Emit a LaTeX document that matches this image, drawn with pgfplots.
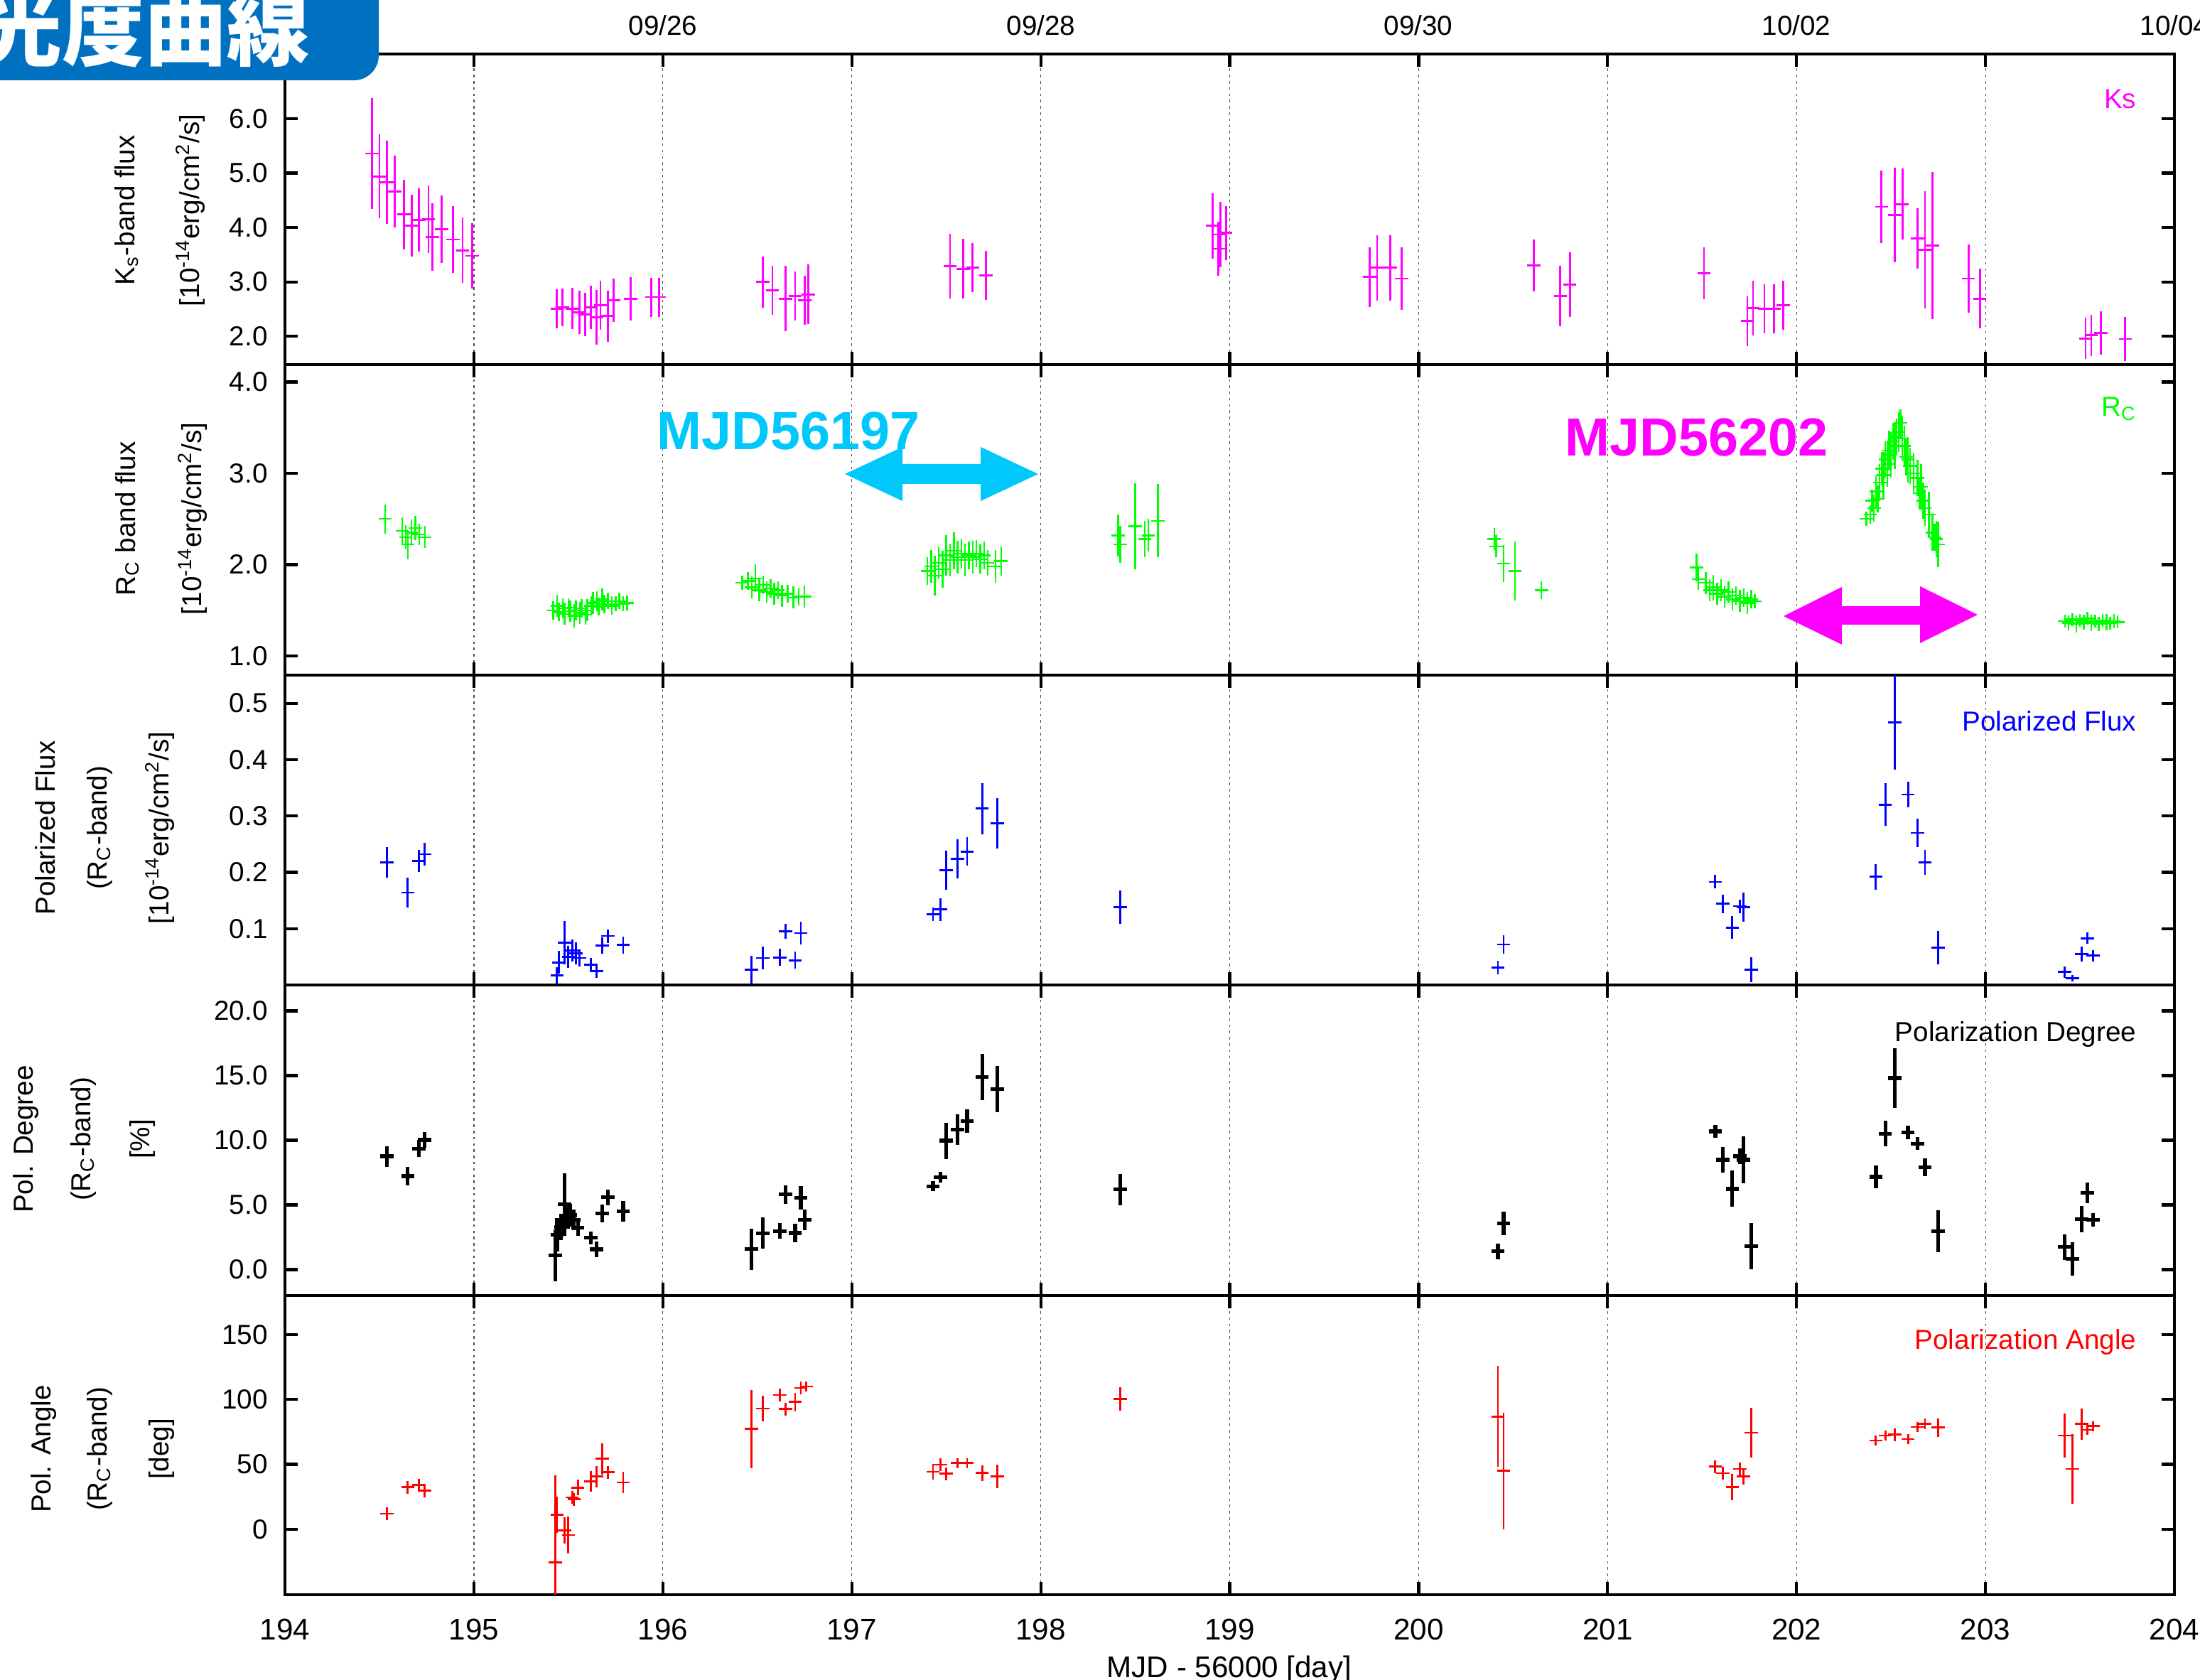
\documentclass[border=0pt]{standalone}
\usepackage{pgfplots}
\pgfplotsset{compat=1.18}
\usepackage{fontspec}
\setmainfont{Liberation Sans}
\newfontfamily\cjk{Noto Sans CJK JP}
\definecolor{titleblue}{RGB}{0,112,192}
\definecolor{annocyan}{RGB}{0,200,250}
\definecolor{mag}{RGB}{255,0,255}
\definecolor{grn}{RGB}{0,255,0}
\pgfplotsset{
 panel/.style={
  scale only axis, width=26.59cm, xmin=194, xmax=204, xtick={194,...,204},
  axis line style={line width=1.4pt},
  tick style={line width=1.2pt, black},
  major tick length=0.18cm,
  tick align=inside,
  xmajorgrids,
  grid style={dash pattern=on 1pt off 1.5pt, line width=0.35pt, black!70},
  ticklabel style={font=\fontsize{11}{13}\selectfont},
  /pgf/number format/assume math mode=true,
  y tick label style={/pgf/number format/.cd, fixed, fixed zerofill, precision=1, /tikz/.cd, xshift=-0.12cm},
  anchor=south west,
 },
 eb/.style 2 args={draw=none, mark=none,
  error bars/.cd, x dir=both, x fixed=0.035, y dir=both, y explicit,
  error mark=none, error bar style={draw=#1, line width=#2, solid}},
}
\begin{document}
\begin{tikzpicture}
% ---------------- Panel 1: Ks
\begin{axis}[panel, at={(4.01cm,18.50cm)}, height=4.37cm, ymin=1.48, ymax=7.19,
  ytick={2,3,4,5,6}, xticklabels={}]
\addplot[eb={mag}{0.8pt}] table[x index=0, y index=1, y error index=2] {
x y e
194.46 5.36 1.02
194.50 4.94 0.77
194.54 4.83 0.76
194.58 4.66 0.66
194.63 4.24 0.64
194.67 4.03 0.57
194.71 4.14 0.58
194.76 4.15 0.62
194.78 3.83 0.62
194.83 3.97 0.62
194.89 3.78 0.62
194.94 3.58 0.60
194.99 3.48 0.60
195.44 2.51 0.36
195.47 2.53 0.35
195.52 2.51 0.38
195.56 2.44 0.40
195.59 2.40 0.40
195.62 2.53 0.40
195.65 2.35 0.50
195.67 2.57 0.45
195.71 2.37 0.47
195.74 2.66 0.40
195.83 2.69 0.40
195.94 2.72 0.36
195.98 2.72 0.36
196.53 3.00 0.47
196.58 2.84 0.45
196.65 2.69 0.60
196.70 2.74 0.45
196.75 2.66 0.45
196.77 2.77 0.55
197.52 3.29 0.60
197.59 3.24 0.55
197.64 3.26 0.45
197.71 3.12 0.45
198.91 4.03 0.60
198.94 3.61 0.50
198.95 3.87 0.60
198.98 3.90 0.50
199.74 3.09 0.55
199.78 3.26 0.60
199.85 3.26 0.60
199.91 3.06 0.58
200.61 3.30 0.48
200.75 2.74 0.56
200.80 2.95 0.60
201.51 3.16 0.48
201.74 2.28 0.46
201.77 2.52 0.50
201.83 2.51 0.45
201.88 2.51 0.45
201.93 2.57 0.45
202.45 4.38 0.67
202.52 4.23 0.87
202.56 4.43 0.65
202.64 3.80 0.56
202.68 3.59 1.08
202.72 3.67 1.35
202.91 3.06 0.63
202.97 2.69 0.55
203.53 1.96 0.38
203.56 2.02 0.38
203.61 2.06 0.40
203.74 1.95 0.40
};
\end{axis}
% ---------------- Panel 2: Rc
\begin{axis}[panel, at={(4.01cm,14.13cm)}, height=4.37cm, ymin=0.79, ymax=4.19,
  ytick={1,2,3,4}, xticklabels={}]
\addplot[eb={grn}{0.7pt}] table[x index=0, y index=1, y error index=2] {
x y e
194.53 2.50 0.16
194.62 2.37 0.15
194.64 2.30 0.13
194.65 2.22 0.16
194.67 2.35 0.14
194.69 2.40 0.13
194.71 2.33 0.12
194.74 2.30 0.12
195.42 1.50 0.10
195.44 1.55 0.12
195.45 1.48 0.10
195.47 1.52 0.11
195.48 1.46 0.12
195.50 1.53 0.10
195.51 1.49 0.12
195.53 1.44 0.13
195.54 1.50 0.11
195.56 1.47 0.12
195.57 1.52 0.10
195.59 1.45 0.11
195.60 1.50 0.12
195.62 1.55 0.10
195.63 1.58 0.12
195.65 1.60 0.11
195.66 1.54 0.10
195.68 1.62 0.12
195.69 1.57 0.10
195.71 1.60 0.09
195.73 1.55 0.10
195.75 1.57 0.08
195.77 1.60 0.09
195.79 1.57 0.08
195.81 1.58 0.08
196.42 1.80 0.08
196.45 1.82 0.10
196.47 1.75 0.12
196.49 1.85 0.15
196.51 1.72 0.12
196.53 1.78 0.10
196.55 1.70 0.12
196.57 1.74 0.10
196.59 1.68 0.12
196.61 1.72 0.10
196.63 1.66 0.12
196.66 1.68 0.10
196.69 1.64 0.12
196.72 1.65 0.10
196.75 1.65 0.12
197.40 1.93 0.15
197.42 1.98 0.18
197.44 1.88 0.22
197.46 2.02 0.18
197.48 1.95 0.20
197.50 2.10 0.22
197.52 2.05 0.18
197.54 2.15 0.20
197.56 2.08 0.18
197.58 2.12 0.16
197.60 2.05 0.18
197.62 2.10 0.15
197.64 2.08 0.18
197.66 2.12 0.15
197.68 2.06 0.16
197.70 2.10 0.15
197.72 2.02 0.14
197.76 1.98 0.18
197.79 2.04 0.16
198.41 2.32 0.23
198.42 2.22 0.20
198.50 2.42 0.47
198.55 2.28 0.20
198.57 2.32 0.18
198.62 2.48 0.40
200.40 2.28 0.12
200.41 2.20 0.12
200.45 2.01 0.20
200.51 1.93 0.32
200.65 1.72 0.10
201.47 1.97 0.15
201.48 1.84 0.12
201.52 1.80 0.12
201.54 1.72 0.12
201.56 1.75 0.14
201.58 1.68 0.12
201.60 1.72 0.12
201.62 1.65 0.12
201.64 1.70 0.12
201.66 1.62 0.12
201.68 1.66 0.10
201.70 1.60 0.12
201.72 1.64 0.10
201.74 1.58 0.12
201.76 1.62 0.10
201.78 1.60 0.08
202.37 2.50 0.08
202.39 2.55 0.10
202.40 2.70 0.12
202.41 2.62 0.15
202.42 2.80 0.18
202.43 2.72 0.15
202.44 2.90 0.20
202.45 3.05 0.18
202.46 2.98 0.25
202.47 3.15 0.20
202.48 3.10 0.25
202.49 3.25 0.22
202.50 3.20 0.25
202.51 3.35 0.20
202.52 3.30 0.25
202.53 3.40 0.20
202.54 3.45 0.22
202.55 3.55 0.15
202.56 3.38 0.25
202.57 3.30 0.22
202.58 3.18 0.20
202.59 3.15 0.25
202.60 3.08 0.20
202.62 3.00 0.22
202.64 2.95 0.20
202.65 2.78 0.18
202.66 2.85 0.25
202.67 2.70 0.20
202.68 2.62 0.20
202.70 2.55 0.25
202.72 2.35 0.20
202.73 2.30 0.15
202.74 2.28 0.20
202.75 2.22 0.25
203.42 1.38 0.07
203.44 1.36 0.08
203.46 1.40 0.07
203.48 1.35 0.09
203.50 1.39 0.07
203.52 1.37 0.08
203.54 1.41 0.07
203.56 1.36 0.09
203.58 1.38 0.07
203.60 1.35 0.08
203.62 1.39 0.07
203.64 1.37 0.09
203.66 1.36 0.07
203.68 1.38 0.08
203.70 1.37 0.07
};
\end{axis}
% ---------------- Panel 3: Polarized flux
\begin{axis}[panel, at={(4.01cm,9.77cm)}, height=4.36cm, ymin=0, ymax=0.55,
  ytick={0.1,0.2,0.3,0.4,0.5}, xticklabels={}]
\addplot[eb={blue}{0.8pt}] table[x index=0, y index=1, y error index=2] {
x y e
194.54 0.218 0.027
194.65 0.164 0.027
194.71 0.220 0.020
194.74 0.232 0.020
195.44 0.017 0.015
195.45 0.040 0.020
195.48 0.075 0.038
195.50 0.050 0.020
195.52 0.061 0.020
195.54 0.056 0.020
195.56 0.048 0.015
195.62 0.036 0.012
195.65 0.025 0.012
195.68 0.070 0.015
195.71 0.087 0.012
195.79 0.071 0.015
196.47 0.027 0.025
196.53 0.048 0.020
196.62 0.049 0.015
196.65 0.095 0.013
196.70 0.044 0.015
196.73 0.092 0.020
197.43 0.125 0.012
197.47 0.134 0.020
197.50 0.204 0.035
197.56 0.224 0.035
197.61 0.237 0.025
197.69 0.313 0.045
197.77 0.287 0.045
198.42 0.138 0.030
200.42 0.031 0.012
200.45 0.072 0.016
201.57 0.183 0.012
201.61 0.144 0.016
201.66 0.102 0.020
201.70 0.140 0.012
201.72 0.138 0.026
201.76 0.027 0.022
202.42 0.192 0.023
202.47 0.320 0.038
202.52 0.466 0.084
202.59 0.338 0.023
202.64 0.270 0.025
202.68 0.218 0.022
202.75 0.066 0.030
203.42 0.023 0.010
203.46 0.012 0.006
203.51 0.055 0.013
203.54 0.083 0.010
203.57 0.052 0.010
};
\end{axis}
% ---------------- Panel 4: Polarization degree
\begin{axis}[panel, at={(4.01cm,5.40cm)}, height=4.37cm, ymin=-2, ymax=22,
  ytick={0,5,10,15,20}, xticklabels={}]
\addplot[eb={black}{1.5pt}] table[x index=0, y index=1, y error index=2] {
x y e
194.54 8.76 0.8
194.65 7.23 0.7
194.71 9.36 0.65
194.74 10.02 0.6
195.43 1.10 2.0
195.44 2.68 1.3
195.46 3.30 1.0
195.48 5.04 2.4
195.50 4.05 0.9
195.51 4.20 0.9
195.53 3.83 0.8
195.55 3.23 0.6
195.62 2.46 0.5
195.65 1.57 0.6
195.68 4.33 0.7
195.71 5.59 0.6
195.79 4.49 0.8
196.47 1.58 1.6
196.53 2.82 1.2
196.62 2.98 0.6
196.65 5.81 0.7
196.70 2.83 0.7
196.73 5.54 0.9
196.75 3.83 0.8
197.43 6.45 0.4
197.47 7.13 0.4
197.50 9.97 1.4
197.56 10.83 1.2
197.61 11.49 0.9
197.69 14.90 1.8
197.77 13.96 1.8
198.42 6.20 1.2
200.42 1.42 0.6
200.45 3.56 0.9
201.57 10.68 0.5
201.61 8.49 1.0
201.66 6.24 1.4
201.70 8.76 0.6
201.72 8.49 1.8
201.76 1.81 1.8
202.42 7.17 0.9
202.47 10.51 1.0
202.52 14.80 2.3
202.59 10.60 0.5
202.64 9.74 0.5
202.68 7.90 0.7
202.75 2.97 1.6
203.42 1.75 1.0
203.46 0.84 1.3
203.51 3.90 1.0
203.54 5.95 0.8
203.57 3.85 0.5
};
\end{axis}
% ---------------- Panel 5: Polarization angle
\begin{axis}[panel, at={(4.01cm,1.19cm)}, height=4.21cm, ymin=-50.4, ymax=180,
  ytick={0,50,100,150},
  y tick label style={/pgf/number format/.cd, fixed, precision=0, /tikz/.cd},
  x tick label style={/pgf/number format/.cd, fixed, precision=0, 1000 sep={}, /tikz/.cd,
     font=\fontsize{12}{14}\selectfont, yshift=-0.22cm}]
\addplot[eb={red}{0.8pt}] table[x index=0, y index=1, y error index=2] {
x y e
194.54 12.0 5
194.65 32.3 5
194.71 34.0 5
194.74 29.6 5
195.43 -25.7 67
195.44 11.0 14
195.48 -1.0 10
195.50 -4.4 14
195.52 24.6 5
195.53 23.0 5
195.55 32.0 6
195.62 36.7 8
195.65 40.5 8
195.68 54.2 12
195.71 43.8 5
195.79 36.1 8
196.47 77.2 30
196.53 93.0 10
196.62 103.4 5
196.65 92.5 5
196.70 98.0 7
196.73 108.9 5
196.76 110.0 4
197.43 44.3 6
197.47 49.8 5
197.50 42.7 5
197.56 50.9 4
197.61 50.9 4
197.69 43.3 6
197.77 40.5 9
198.42 100.2 9
200.42 86.9 39
200.45 44.9 45
201.57 48.2 5
201.61 43.2 5
201.66 32.5 10
201.70 46.5 5
201.72 40.5 6
201.76 74.4 19
202.42 68.4 4
202.47 72.2 4
202.52 72.8 5
202.59 69.5 4
202.64 78.8 4
202.68 81.3 4
202.75 78.3 7
203.42 72.2 17
203.46 46.5 27
203.51 81.0 12
203.54 76.6 4
203.57 79.4 4
};
\end{axis}
% ---------------- texts
\begin{scope}[every node/.style={font=\fontsize{11}{13}\selectfont, inner sep=0pt}]
% top date labels
\node[anchor=base] at (9.33,23.13) {09/26};
\node[anchor=base] at (14.65,23.13) {09/28};
\node[anchor=base] at (19.96,23.13) {09/30};
\node[anchor=base] at (25.28,23.13) {10/02};
\node[anchor=base] at (30.60,23.13) {10/04};
% panel labels
\node[anchor=north east, text=mag] at (30.07,22.38) {Ks};
\node[anchor=north east, text=grn] at (30.07,18.05) {R\textsubscript{C}};
\node[anchor=north east, text=blue] at (30.07,13.63) {Polarized Flux};
\node[anchor=north east, text=black] at (30.07,9.26) {Polarization Degree};
\node[anchor=north east, text=red] at (30.07,4.93) {Polarization Angle};
% y labels
\node[rotate=90, anchor=base] at (1.89,20.67) {K\textsubscript{s}-band flux};
\node[rotate=90, anchor=base] at (2.80,20.67) {[10\textsuperscript{-14}erg/cm\textsuperscript{2}/s]};
\node[rotate=90, anchor=base] at (1.90,16.33) {R\textsubscript{C} band flux};
\node[rotate=90, anchor=base] at (2.83,16.33) {[10\textsuperscript{-14}erg/cm\textsuperscript{2}/s]};
\node[rotate=90, anchor=base] at (0.77,11.98) {Polarized Flux};
\node[rotate=90, anchor=base] at (1.50,11.98) {(R\textsubscript{C}-band)};
\node[rotate=90, anchor=base] at (2.37,11.98) {[10\textsuperscript{-14}erg/cm\textsuperscript{2}/s]};
\node[rotate=90, anchor=base] at (0.46,7.60) {Pol. Degree};
\node[rotate=90, anchor=base] at (1.27,7.60) {(R\textsubscript{C}-band)};
\node[rotate=90, anchor=base] at (2.10,7.60) {[\%]};
\node[rotate=90, anchor=base] at (0.71,3.24) {Pol. Angle};
\node[rotate=90, anchor=base] at (1.50,3.24) {(R\textsubscript{C}-band)};
\node[rotate=90, anchor=base] at (2.37,3.24) {[deg]};
% x label
\node[anchor=base, font=\fontsize{12}{14}\selectfont] at (17.30,0.03) {MJD - 56000 [day]};
\end{scope}
% annotations
\node[anchor=base west, inner sep=0pt, text=annocyan, font=\fontsize{21.5}{24}\selectfont\bfseries] at (9.24,17.30) {MJD56197};
\node[anchor=base west, inner sep=0pt, text=mag, font=\fontsize{21.5}{24}\selectfont\bfseries] at (22.02,17.21) {MJD56202};
\fill[annocyan] (11.89,16.96) -- (12.70,17.34) -- (12.70,17.10) -- (13.80,17.10) -- (13.80,17.34) -- (14.61,16.96) -- (13.80,16.58) -- (13.80,16.82) -- (12.70,16.82) -- (12.70,16.58) -- cycle;
\fill[mag] (25.10,14.96) -- (25.92,15.37) -- (25.92,15.10) -- (27.02,15.10) -- (27.02,15.38) -- (27.83,14.98) -- (27.02,14.58) -- (27.02,14.84) -- (25.92,14.84) -- (25.92,14.56) -- cycle;
% title box
\fill[titleblue, rounded corners=0.35cm] (-0.6,22.50) rectangle (5.33,24.2);
\node[anchor=base west, inner sep=0pt, text=white, font=\cjk\bfseries\fontsize{33}{36}\selectfont] at (-0.29,22.79) {光度曲線};
\pgfresetboundingbox
\path[use as bounding box] (0,0) rectangle (30.96,23.63);
\end{tikzpicture}
\end{document}
